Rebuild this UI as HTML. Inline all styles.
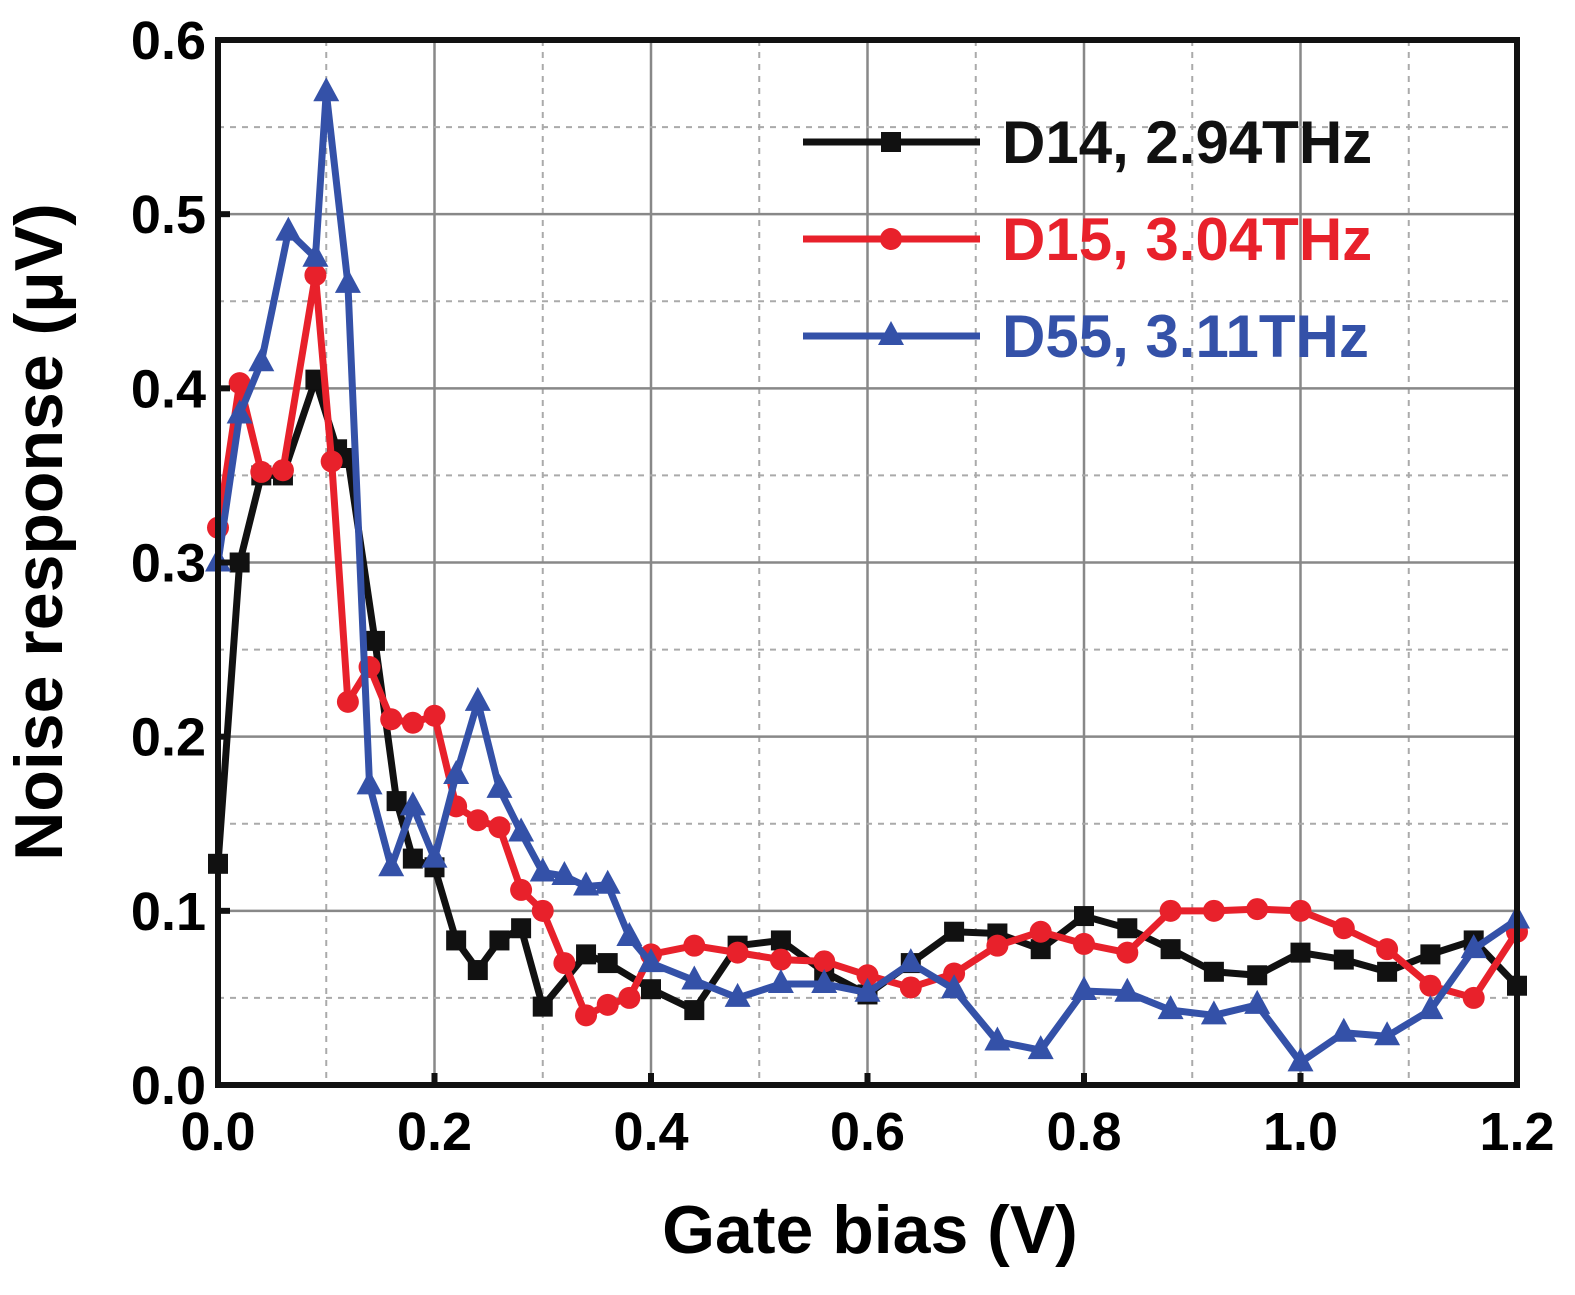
<!DOCTYPE html>
<html><head><meta charset="utf-8"><style>
body{margin:0;background:#fff}
svg text{font-family:"Liberation Sans",Arial,sans-serif;font-weight:bold}
</style></head><body>
<svg width="1575" height="1290" viewBox="0 0 1575 1290">
<g id="grid"></g>
<g id="series"></g>
<rect x="218" y="40" width="1299" height="1045" fill="none" stroke="#111" stroke-width="6"/>
<g id="ticks"></g>
<text x="870" y="1253" font-size="68" text-anchor="middle">Gate bias (V)</text>
<text transform="translate(62,532) rotate(-90)" font-size="68" text-anchor="middle">Noise response (μV)</text>
<g id="legend"></g>
</svg>
<script>
const xTicks=[0,0.2,0.4,0.6,0.8,1.0,1.2];
const xTickLabels=["0.0","0.2","0.4","0.6","0.8","1.0","1.2"];
const yTicks=[0,0.1,0.2,0.3,0.4,0.5,0.6];
const yTickLabels=["0.0","0.1","0.2","0.3","0.4","0.5","0.6"];
const seriesNames=["D14, 2.94THz","D15, 3.04THz","D55, 3.11THz"];
const d14x=[0,0.02,0.04,0.06,0.09,0.11,0.12,0.145,0.165,0.18,0.2,0.22,0.24,0.26,0.28,0.30,0.34,0.36,0.4,0.44,0.48,0.52,0.56,0.6,0.64,0.68,0.72,0.76,0.8,0.84,0.88,0.92,0.96,1.0,1.04,1.08,1.12,1.16,1.2];
const d14y=[0.127,0.3,0.35,0.35,0.405,0.365,0.36,0.255,0.163,0.13,0.125,0.083,0.066,0.083,0.09,0.045,0.075,0.07,0.055,0.043,0.08,0.083,0.065,0.052,0.07,0.088,0.087,0.078,0.097,0.09,0.078,0.065,0.063,0.076,0.072,0.065,0.075,0.083,0.057];
const d15x=[0,0.02,0.04,0.06,0.09,0.105,0.12,0.14,0.16,0.18,0.2,0.22,0.24,0.26,0.28,0.3,0.32,0.34,0.36,0.38,0.4,0.44,0.48,0.52,0.56,0.6,0.64,0.68,0.72,0.76,0.8,0.84,0.88,0.92,0.96,1.0,1.04,1.08,1.12,1.16,1.2];
const d15y=[0.32,0.403,0.352,0.353,0.465,0.358,0.22,0.24,0.21,0.208,0.212,0.16,0.152,0.148,0.112,0.1,0.07,0.04,0.046,0.05,0.075,0.08,0.076,0.072,0.071,0.063,0.056,0.064,0.08,0.088,0.081,0.076,0.1,0.1,0.101,0.1,0.09,0.078,0.057,0.05,0.088];
const d55x=[0,0.02,0.04,0.065,0.09,0.1,0.12,0.14,0.16,0.18,0.2,0.22,0.24,0.26,0.28,0.3,0.32,0.34,0.36,0.38,0.4,0.44,0.48,0.52,0.56,0.6,0.64,0.68,0.72,0.76,0.8,0.84,0.88,0.92,0.96,1.0,1.04,1.08,1.12,1.16,1.2];
const d55y=[0.3,0.385,0.415,0.49,0.475,0.57,0.46,0.172,0.125,0.16,0.13,0.178,0.22,0.17,0.145,0.122,0.12,0.114,0.115,0.085,0.07,0.06,0.05,0.058,0.058,0.053,0.07,0.055,0.025,0.02,0.054,0.053,0.043,0.04,0.046,0.013,0.03,0.028,0.043,0.078,0.095];

const NS="http://www.w3.org/2000/svg";
const X0=218,X1=1517,Y0=1085,Y1=40;
const xs=v=>X0+v/1.2*(X1-X0);
const ys=v=>Y0-v/0.6*(Y0-Y1);
function mk(t,a,p){const e=document.createElementNS(NS,t);for(const k in a)e.setAttribute(k,a[k]);p.appendChild(e);return e;}
const grid=document.getElementById('grid'),ticks=document.getElementById('ticks'),ser=document.getElementById('series'),leg=document.getElementById('legend');
for(let i=1;i<12;i++){const v=i*0.1;const l=mk('line',{x1:xs(v),x2:xs(v),y1:Y1,y2:Y0,stroke:i%2?'#aaa':'#888','stroke-width':i%2?2:2.5,'stroke-dasharray':i%2?'6,6':'none'},grid);

}
for(let i=1;i<12;i++){const v=i*0.05;const l=mk('line',{x1:X0,x2:X1,y1:ys(v),y2:ys(v),stroke:i%2?'#aaa':'#888','stroke-width':i%2?2:2.5,'stroke-dasharray':i%2?'6,6':'none'},grid);

}
xTicks.forEach((v,i)=>{const t=mk('text',{x:xs(v),y:1150,'font-size':54,'text-anchor':'middle'},ticks);t.textContent=xTickLabels[i];


const tk=mk('line',{x1:xs(v),x2:xs(v),y1:Y0,y2:Y0-12,stroke:'#111','stroke-width':6},ticks);

});
yTicks.forEach((v,i)=>{const t=mk('text',{x:206,y:ys(v)+19,'font-size':54,'text-anchor':'end'},ticks);t.textContent=yTickLabels[i];


const tk=mk('line',{x1:X0,x2:X0+12,y1:ys(v),y2:ys(v),stroke:'#111','stroke-width':6},ticks);

});
function marker(type,x,y,c,p){let e;
if(type==0)e=mk('rect',{x:x-10,y:y-10,width:20,height:20,fill:c},p);
else if(type==1)e=mk('circle',{cx:x,cy:y,r:11,fill:c},p);
else e=mk('polygon',{points:`${x},${y-15} ${x-13},${y+9} ${x+13},${y+9}`,fill:c},p);
return e;}
const colors=['#111111','#e8212b','#3451a8'];
const data=[[d14x,d14y],[d15x,d15y],[d55x,d55y]];
data.forEach((d,k)=>{const g=mk('g',{},ser);


const pts=d[0].map((x,i)=>xs(x)+','+ys(d[1][i])).join(' ');
const pl=mk('polyline',{points:pts,fill:'none',stroke:colors[k],'stroke-width':7,'stroke-linejoin':'round'},g);


d[0].forEach((x,i)=>{const m=marker(k,xs(x),ys(d[1][i]),colors[k],g);

});});
seriesNames.forEach((n,k)=>{const y=142+k*97;const g=mk('g',{},leg);


mk('line',{x1:803,x2:980,y1:y,y2:y,stroke:colors[k],'stroke-width':7},g);
marker(k,891,y,colors[k],g);
const t=mk('text',{x:1002,y:y+21,'font-size':60,fill:colors[k]},g);t.textContent=n;});
</script>
</body></html>
